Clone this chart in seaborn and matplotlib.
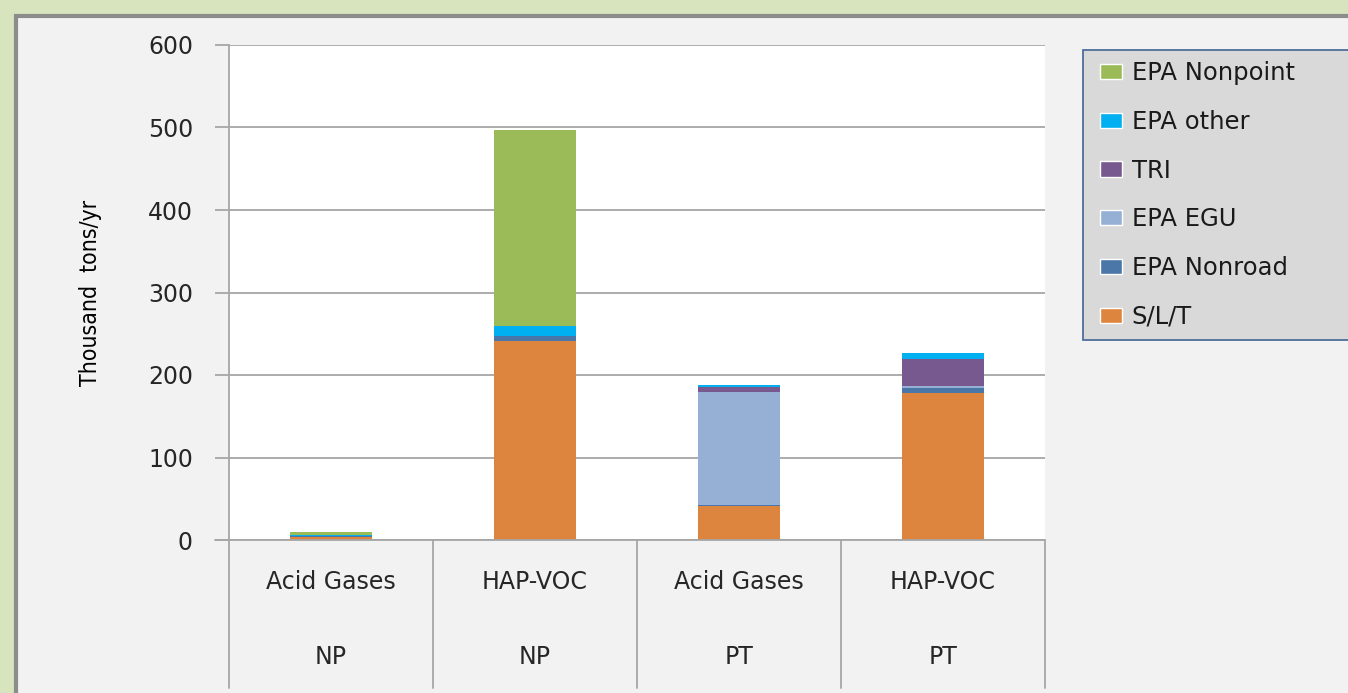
import matplotlib
matplotlib.use("Agg")
import matplotlib.pyplot as plt
import matplotlib.patches as mpatches
import matplotlib.transforms as mtransforms
import seaborn as sns
import pandas as pd
import numpy as np

# ---- data (thousand tons/yr) ----
pollutants = ["Acid Gases", "HAP-VOC", "Acid Gases", "HAP-VOC"]
groups = ["NP", "NP", "PT", "PT"]
slt = [4, 241, 41, 178]
epa_nonroad = [0.5, 6.5, 1, 6]
epa_egu = [0, 0, 138, 3]
tri = [0, 0, 5.5, 32]
epa_other = [1.5, 12, 2, 8]
epa_nonpoint = [4, 237, 0, 0]

series_names = ["S/L/T", "EPA Nonroad", "EPA EGU", "TRI", "EPA other", "EPA Nonpoint"]
series_vals = [slt, epa_nonroad, epa_egu, tri, epa_other, epa_nonpoint]
series_colors = ["#dd843f", "#4a76a8", "#95b0d4", "#77588f", "#00b0f0", "#9bbb59"]

sns.set_style("white")
plt.rcParams["font.family"] = ["DejaVu Sans"]

W, H = 1348, 693
fig = plt.figure(figsize=(W / 100, H / 100), dpi=100)
fig.patch.set_facecolor("#d7e4bd")
# inner panel
panel = mpatches.Rectangle((15.5 / W, -0.05), 1.1, 1 - 15.5 / H + 0.05,
                           transform=fig.transFigure, facecolor="#f2f2f2",
                           edgecolor="#8c8c8c", linewidth=3, zorder=-10)
fig.patches.append(panel)

ax = fig.add_axes([229 / W, 1 - 540 / H, (1045 - 229) / W, (540 - 45) / H])
ax.set_facecolor("white")

n = len(pollutants)
idx = [f"c{i}" for i in range(n)]
cum = np.zeros(n)
cums = []
for vals in series_vals:
    cum = cum + np.array(vals, dtype=float)
    cums.append(cum.copy())

# draw from top cumulative down so lower layers cover upper ones
for name, color, c in reversed(list(zip(series_names, series_colors, cums))):
    df = pd.DataFrame({"cat": idx, "val": c})
    sns.barplot(data=df, x="cat", y="val", color=color, width=0.4,
                ax=ax, saturation=1, zorder=3, linewidth=0, edgecolor="none")

ax.set_ylim(0, 600)
ax.set_xlim(-0.5, n - 0.5)
ax.set_yticks(np.arange(0, 601, 100))
ax.yaxis.grid(True, color="#a6a6a6", linewidth=1.3, zorder=0)
ax.set_axisbelow(True)
for s in ["top", "right", "bottom"]:
    ax.spines[s].set_visible(False)
ax.spines["left"].set_color("#a6a6a6")
ax.spines["left"].set_linewidth(1.3)
ax.tick_params(axis="y", length=10, width=1.3, color="#a6a6a6", labelsize=17,
               labelcolor="#262626", pad=16, left=True)
ax.set_xticks([])
ax.set_xlabel("")
ax.set_ylabel("Thousand  tons/yr", fontsize=16.5, color="black",
              family=["DejaVu Sans"], fontstretch="condensed",
              labelpad=33)

# two-level category axis
trans = mtransforms.blended_transform_factory(ax.transData, ax.transAxes)
px = 1 / 495  # one pixel in axes fraction (vertical)
for i in range(n):
    ax.text(i, -(582 - 540) * px, pollutants[i], transform=trans, ha="center",
            va="center", fontsize=17, color="#262626")
    ax.text(i, -(657 - 540) * px, groups[i], transform=trans, ha="center",
            va="center", fontsize=17, color="#262626")
for b in np.arange(-0.5, n, 1.0):
    ax.plot([b, b], [0, -(688 - 540) * px], transform=trans, color="#a6a6a6",
            linewidth=1.3, clip_on=False)
ax.plot([-0.5 - 14 / 204, n - 0.5], [0, 0], transform=trans, color="#a6a6a6",
        linewidth=1.3, clip_on=False, zorder=5)

# legend box
box = mpatches.Rectangle((1083 / W, 1 - 340 / H), (1360 - 1083) / W, 290 / H,
                         transform=fig.transFigure, facecolor="#d9d9d9",
                         edgecolor="#4f6d9a", linewidth=1.3, zorder=1)
fig.patches.append(box)

handles = [mpatches.Patch(facecolor=c, label=nm)
           for nm, c in reversed(list(zip(series_names, series_colors)))]
leg = fig.legend(handles=handles, loc="upper left",
                 bbox_to_anchor=(1100 / W, 1 - 61 / H), fontsize=17.5,
                 frameon=False, labelspacing=1.02,
                 handlelength=0.9, handleheight=0.58, handletextpad=0.41,
                 borderpad=0, borderaxespad=0)
for t in leg.get_texts():
    t.set_color("#1a1a1a")
leg.set_zorder(5)

fig.savefig("out.png", dpi=100, facecolor=fig.get_facecolor())
